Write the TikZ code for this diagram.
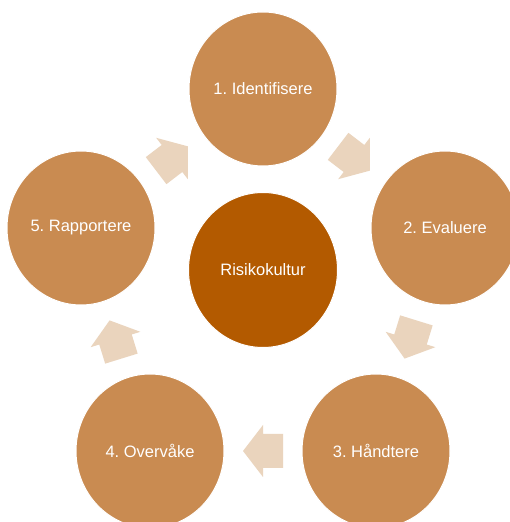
\documentclass[tikz,border=0pt]{standalone}
\usepackage{fontspec}
\setmainfont{Liberation Sans}
\usetikzlibrary{calc,shapes.geometric}
\definecolor{outerfill}{HTML}{C98B51}
\definecolor{innerfill}{HTML}{B35A00}
\definecolor{arrowfill}{HTML}{EAD4BD}
\tikzset{
  stage/.style={ellipse, fill=outerfill, draw=white, line width=1pt, minimum width=148pt, minimum height=154pt, inner sep=0pt, text=white, font=\fontsize{16.5}{19}\selectfont\frenchspacing},
  core/.style={ellipse, fill=innerfill, draw=white, line width=1pt, minimum width=149pt, minimum height=155pt, inner sep=0pt, text=white, font=\fontsize{16.5}{19}\selectfont\frenchspacing},
  blockarrow/.style={fill=arrowfill, draw=none}
}
\newcommand{\cyclearrow}[2]{%
  \coordinate (m) at ($(#1)!0.5!(#2)$);
  \coordinate (tl) at ($(m)!-20pt!(#2)$);
  \coordinate (tp) at ($(m)!20pt!(#2)$);
  \fill[blockarrow]
    ($(tl)!17pt!90:(#2)$) -- ($(m)!17pt!90:(#2)$) -- ($(m)!26pt!90:(#2)$) --
    (tp) --
    ($(m)!26pt!-90:(#2)$) -- ($(m)!17pt!-90:(#2)$) -- ($(tl)!17pt!-90:(#2)$) -- cycle;
}
\begin{document}
\begin{tikzpicture}[x=1pt,y=1pt]
\useasboundingbox (0,0) rectangle (510,522);
\clip (0,0) rectangle (510,522);
\fill[white] (0,0) rectangle (510,522);
\coordinate (p1) at (263,433);
\coordinate (p2) at (445,294);
\coordinate (p3) at (376,71);
\coordinate (p4) at (150,71);
\coordinate (p5) at (81,294);
\node[stage] (s1) at (p1) {1. Identifisere};
\node[stage] (s2) at (p2) {2. Evaluere};
\node[stage] (s3) at (p3) {3. Håndtere};
\node[stage] (s4) at (p4) {4. Overvåke};
\node[stage] (s5) at (p5) {5. Rapportere};
\node[core] (c) at (263,252) {Risikokultur};
\cyclearrow{s1}{s2}
\cyclearrow{s2}{s3}
\cyclearrow{s3}{s4}
\cyclearrow{s4}{s5}
\cyclearrow{s5}{s1}
\end{tikzpicture}
\end{document}
